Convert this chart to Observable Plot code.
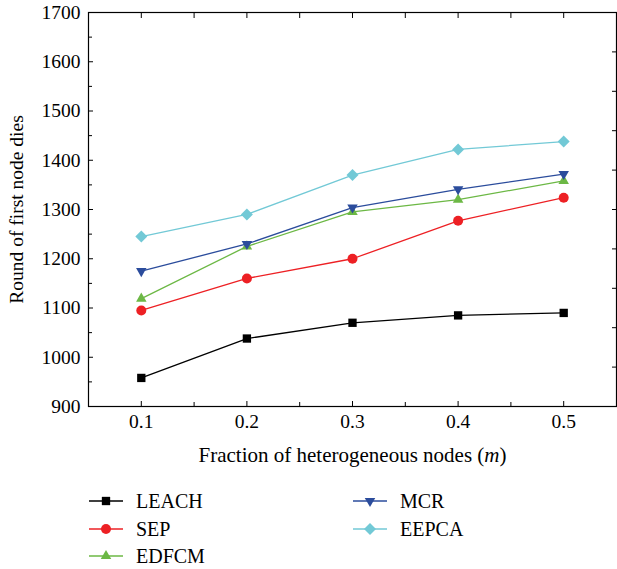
<!DOCTYPE html>
<html>
<head>
<meta charset="utf-8">
<script src="https://cdn.jsdelivr.net/npm/d3@7"></script>
<script src="https://cdn.jsdelivr.net/npm/@observablehq/plot@0.6"></script>
<style>
  html, body { margin: 0; padding: 0; background: #fff; }
  #chart { width: 617px; }
  .legend { position: relative; width: 617px; height: 93px; font-family: "Liberation Serif", serif; font-size: 20px; color: #000; }
  .legend .item { position: absolute; display: flex; align-items: center; height: 20px; }
  .legend svg { margin-right: 13px; }
</style>
</head>
<body>
<div id="chart"></div>
<script>
// Round at which the first node dies, vs. fraction of heterogeneous nodes
const fractions = [0.1, 0.2, 0.3, 0.4, 0.5];
const leach = [958, 1038, 1070, 1085, 1090];
const sep   = [1095, 1160, 1200, 1277, 1324];
const edfcm = [1119, 1225, 1295, 1320, 1358];
const mcr   = [1175, 1230, 1304, 1341, 1372];
const eepca = [1245, 1290, 1370, 1422, 1438];

const seriesNames = ["LEACH", "SEP", "EDFCM", "MCR", "EEPCA"];

// Axis tick values
const yMajorTicks = [900, 1000, 1100, 1200, 1300, 1400, 1500, 1600, 1700];
const yMinorTicks = [950, 1050, 1150, 1250, 1350, 1450, 1550, 1650];
const xMajorTicks = [0.1, 0.2, 0.3, 0.4, 0.5];
const xAllTicks = [0.1, 0.15, 0.2, 0.25, 0.3, 0.35, 0.4, 0.45, 0.5];
const rightTicks = [980, 1060, 1140, 1220, 1300, 1380, 1460, 1540, 1620];

// Downward-pointing triangle symbol
const triangleDown = {
  draw(ctx, size) {
    const s = Math.sqrt(size * 4 / Math.sqrt(3));
    const h = s * Math.sqrt(3) / 2;
    ctx.moveTo(0, 2 * h / 3);
    ctx.lineTo(s / 2, -h / 3);
    ctx.lineTo(-s / 2, -h / 3);
    ctx.closePath();
  }
};

const styles = {
  LEACH: {values: leach, color: "#000000", symbol: d3.symbolSquare, r: 4.7},
  SEP:   {values: sep,   color: "#ed2024", symbol: d3.symbolCircle, r: 5},
  EDFCM: {values: edfcm, color: "#6cb845", symbol: d3.symbolTriangle, r: 3.9},
  MCR:   {values: mcr,   color: "#2b4c9c", symbol: triangleDown, r: 3.9},
  EEPCA: {values: eepca, color: "#72c9d6", symbol: d3.symbolDiamond2, r: 5.4}
};

const rows = seriesNames.flatMap(name =>
  fractions.map((f, i) => ({series: name, m: f, value: styles[name].values[i]}))
);

const seriesMarks = seriesNames.flatMap(name => {
  const st = styles[name];
  const data = rows.filter(d => d.series === name);
  return [
    Plot.line(data, {x: "m", y: "value", stroke: st.color, strokeWidth: 1.3}),
    Plot.dot(data, {x: "m", y: "value", symbol: st.symbol, r: st.r, fill: st.color, stroke: "none"})
  ];
});

const svg = Plot.plot({
  width: 617,
  height: 476,
  marginLeft: 88,
  marginRight: 1,
  marginTop: 12,
  marginBottom: 70,
  style: {fontFamily: "Liberation Serif, serif", fontSize: "19.5px", color: "#000", background: "#fff"},
  x: {domain: [0.05, 0.55]},
  y: {domain: [900, 1700]},
  marks: [
    Plot.axisY({ticks: yMajorTicks, tickSize: -5, tickPadding: 13, tickFormat: "d",
      label: "Round of first node dies", labelAnchor: "center", labelOffset: 79, labelArrow: "none"}),
    Plot.axisY({ticks: yMinorTicks, tickSize: -4, tickFormat: () => "", label: null}),
    Plot.axisY({anchor: "right", ticks: rightTicks, tickSize: -5, tickFormat: () => "", label: null}),
    Plot.axisX({ticks: xMajorTicks, tickSize: -5, tickPadding: 13, tickFormat: d => d.toFixed(1),
      label: "Fraction of heterogeneous nodes (m)", labelAnchor: "center", labelOffset: 55, labelArrow: "none"}),
    Plot.axisX({ticks: xAllTicks.filter(v => !xMajorTicks.includes(v)), tickSize: -4, tickFormat: () => "", label: null}),
    Plot.axisX({anchor: "top", ticks: xAllTicks, tickSize: -5, tickFormat: () => "", label: null}),
    ...seriesMarks,
    Plot.frame({stroke: "#000", strokeWidth: 1.2})
  ]
});

// Italicize the variable name in the x-axis title
d3.select(svg).selectAll("text").each(function () {
  if (this.textContent === "Fraction of heterogeneous nodes (m)") {
    const t = d3.select(this).attr("font-size", 21);
    t.text("Fraction of heterogeneous nodes (");
    t.append("tspan").attr("font-style", "italic").text("m");
    t.append("tspan").text(")");
  }
});

document.getElementById("chart").appendChild(svg);

// Legend: two columns below the chart
const legend = d3.select("#chart").append("div").attr("class", "legend");
const legendPos = {
  LEACH: [89, 15], SEP: [89, 43], EDFCM: [89, 70],
  MCR: [353, 15], EEPCA: [353, 43]
};
for (const name of seriesNames) {
  const st = styles[name];
  const item = legend.append("div").attr("class", "item")
    .style("left", legendPos[name][0] + "px").style("top", legendPos[name][1] + "px");
  const sw = item.append("svg").attr("width", 34).attr("height", 20);
  sw.append("line").attr("x1", 0).attr("x2", 34).attr("y1", 10).attr("y2", 10)
    .attr("stroke", st.color).attr("stroke-width", 1.3);
  sw.append("path").attr("transform", "translate(17,10)")
    .attr("d", d3.symbol(st.symbol, Math.PI * st.r * st.r)())
    .attr("fill", st.color);
  item.append("span").text(name);
}
</script>
</body>
</html>
